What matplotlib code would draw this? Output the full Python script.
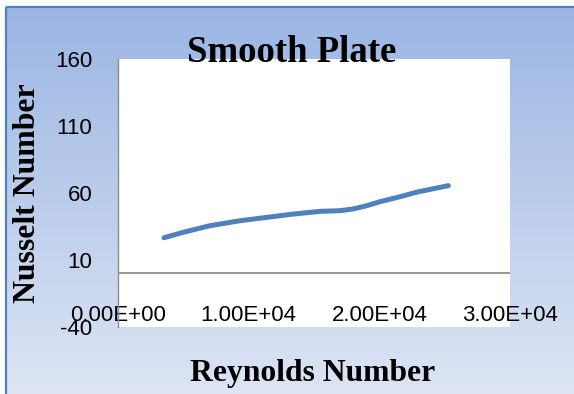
import numpy as np
import matplotlib
matplotlib.use("Agg")
import matplotlib.pyplot as plt

# Data
reynolds = [3520, 5000, 7040, 9330, 11380, 13160, 15450, 16990, 18000, 19030, 20050, 21580, 22850, 25280]
nusselt = [26.6, 30.7, 35.6, 39.3, 41.8, 44.0, 46.3, 46.8, 48.1, 50.5, 53.5, 57.2, 60.6, 65.5]
x_ticks = [0, 10000, 20000, 30000]
x_tick_labels = ["0.00E+00", "1.00E+04", "2.00E+04", "3.00E+04"]
y_ticks = [-40, 10, 60, 110, 160]
title = "Smooth Plate"
x_label = "Reynolds Number"
y_label = "Nusselt Number"

W, H = 574, 394
fig = plt.figure(figsize=(W / 100, H / 100), dpi=100)
fig.patch.set_facecolor("white")

# background panel with vertical gradient
bg = fig.add_axes([0, 0, 1, 1], zorder=0)
bg.set_xlim(0, W)
bg.set_ylim(H, 0)
bg.axis("off")
top = np.array([0x9B, 0xB5, 0xE3]) / 255
bot = np.array([0xDD, 0xE5, 0xF3]) / 255
t = np.linspace(0, 1, 256)[:, None, None]
grad = top * (1 - t) + bot * t
grad = np.repeat(grad, 2, axis=1)
bg.imshow(grad, extent=[6, W, H, 7], aspect="auto", interpolation="bilinear")
bg.plot([6, W], [7, 7], color="#4F81BD", lw=1.6, solid_capstyle="butt")
bg.plot([6, 6], [7, H], color="#4F81BD", lw=1.6, solid_capstyle="butt")

# main axes
L, R, T, B = 118, 510, 59, 327
ax = fig.add_axes([L / W, (H - B) / H, (R - L) / W, (B - T) / H], zorder=1)
ax.set_facecolor("white")
ax.set_xlim(0, 30000)
ax.set_ylim(-40, 160)
ax.plot(reynolds, nusselt, color="#4F81BD", lw=3.6, solid_capstyle="round",
        solid_joinstyle="round", zorder=3)
ax.axhline(0, color="#8C8C8C", lw=1.3, zorder=2)

for s in ["top", "right", "bottom"]:
    ax.spines[s].set_visible(False)
ax.spines["left"].set_color("#8C8C8C")
ax.spines["left"].set_linewidth(1.0)

ax.set_xticks(x_ticks)
ax.set_xticklabels(x_tick_labels, fontfamily="Liberation Sans", fontsize=16)
ax.set_yticks(y_ticks)
ax.set_yticklabels([str(v) for v in y_ticks], fontfamily="Liberation Sans", fontsize=16)
ax.tick_params(axis="x", length=0, pad=-16)
ax.tick_params(axis="y", length=0, pad=18.5)

fig.text(292 / W, 1 - 62 / H, title, fontfamily="Liberation Serif", fontweight="bold",
         fontsize=26.5, ha="center", va="baseline", zorder=5)
fig.text(28 / W, 1 - 193 / H, y_label, fontfamily="Liberation Serif", fontweight="bold",
         fontsize=22.9, ha="center", va="center", rotation=90)
fig.text(313 / W, 1 - 381 / H, x_label, fontfamily="Liberation Serif", fontweight="bold",
         fontsize=22.8, ha="center", va="baseline")

fig.savefig("out.png", dpi=100)
